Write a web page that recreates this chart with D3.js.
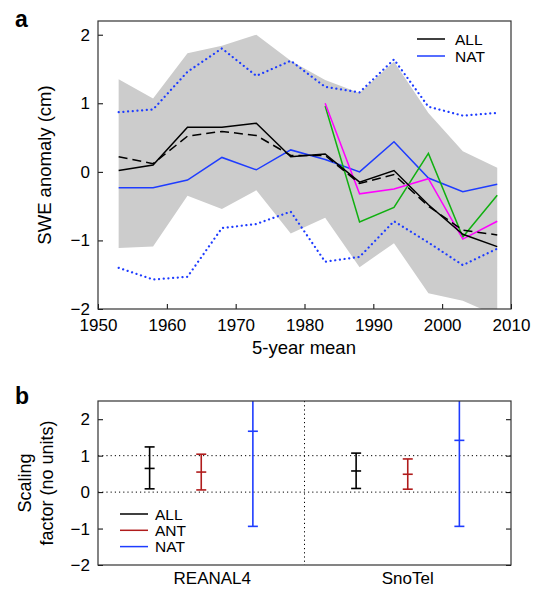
<!DOCTYPE html>
<html>
<head>
<meta charset="utf-8">
<script src="https://cdn.jsdelivr.net/npm/d3@7"></script>
<style>
  body { margin: 0; background: #fff; }
  svg { font-family: "Liberation Sans", Arial, sans-serif; }
</style>
</head>
<body>
<svg id="chart" width="539" height="591"></svg>
<script>

// panel a: 5-year means of SWE anomaly (cm)
var years = [1953, 1958, 1963, 1968, 1973, 1978, 1983, 1988, 1993, 1998, 2003, 2008];
var allMean   = [0.02, 0.10, 0.65, 0.65, 0.71, 0.22, 0.26, -0.15, 0.02, -0.48, -0.91, -1.09];
var allDashed = [0.22, 0.12, 0.52, 0.59, 0.53, 0.24, 0.24, -0.17, -0.04, -0.50, -0.85, -0.92];
var natMean   = [-0.23, -0.23, -0.12, 0.21, 0.03, 0.32, 0.18, 0.00, 0.44, -0.09, -0.29, -0.18];
var natUpper  = [0.87, 0.91, 1.46, 1.80, 1.40, 1.62, 1.24, 1.16, 1.64, 0.95, 0.82, 0.86];
var natLower  = [-1.40, -1.57, -1.53, -0.82, -0.76, -0.58, -1.31, -1.24, -0.72, -1.03, -1.36, -1.12];
var allUpper  = [1.35, 1.07, 1.73, 1.84, 2.00, 1.62, 1.34, 1.15, 1.61, 0.86, 0.30, 0.06];
var allLower  = [-1.11, -1.09, -0.35, -0.54, -0.27, -0.90, -0.67, -1.39, -1.04, -1.77, -1.88, -2.10];

var obsYears = [1983, 1988, 1993, 1998, 2003, 2008];
var obsMagenta = [1.00, -0.32, -0.25, -0.10, -0.98, -0.72];
var obsGreen   = [0.96, -0.73, -0.52, 0.27, -0.95, -0.34];

var xTicksA = [1950, 1960, 1970, 1980, 1990, 2000, 2010];
var yTicksA = [-2, -1, 0, 1, 2];

// panel b: scaling factors
var sites = ["REANAL4", "SnoTel"];
var forcings = ["ALL", "ANT", "NAT"];
var reanalBest = [0.65, 0.55, 1.67];
var reanalLow  = [0.09, 0.06, -0.94];
var reanalHigh = [1.24, 1.04, 4.28];
var snotelBest = [0.58, 0.49, 1.42];
var snotelLow  = [0.10, 0.08, -0.94];
var snotelHigh = [1.07, 0.91, 3.78];
var yTicksB = [-2, -1, 0, 1, 2];

var blue = "#1e3cff", red = "#b01c1c", green = "#10b010", magenta = "#ff00ff";
var forcingColor = { ALL: "#000", ANT: red, NAT: blue };

const svg = d3.select("#chart");

// ---------- panel a ----------
var left = 98, right = 511;
var topA = 21, bottomA = 309;

const xA = d3.scaleLinear().domain([1950, 2010]).range([left, right]);
const yA = d3.scaleLinear().domain([-2, 2.2]).range([bottomA, topA]);

svg.append("clipPath").attr("id", "clipA")
  .append("rect").attr("x", left).attr("y", topA)
  .attr("width", right - left).attr("height", bottomA - topA);

const gA = svg.append("g").attr("clip-path", "url(#clipA)");

const band = d3.area()
  .x((d, i) => xA(years[i]))
  .y0((d, i) => yA(allLower[i]))
  .y1((d, i) => yA(allUpper[i]));

gA.append("path").datum(years).attr("d", band).attr("fill", "#cccccc");

function drawLine(xs, ys, color, dash, width, cap) {
  const line = d3.line().x((d, i) => xA(xs[i])).y(d => yA(d));
  gA.append("path")
    .datum(ys)
    .attr("d", line)
    .attr("fill", "none")
    .attr("stroke", color)
    .attr("stroke-width", width || 1.5)
    .attr("stroke-dasharray", dash || null)
    .attr("stroke-linecap", cap || "butt");
}

// dotted NAT range
drawLine(years, natUpper, blue, "0.1,4.6", 2.2, "round");
drawLine(years, natLower, blue, "0.1,4.6", 2.2, "round");
drawLine(years, natMean, blue);
drawLine(obsYears, obsGreen, green);
drawLine(obsYears, obsMagenta, magenta);
drawLine(years, allDashed, "#000", "9,5");
drawLine(years, allMean, "#000");

svg.append("g")
  .attr("transform", "translate(0," + bottomA + ")")
  .call(d3.axisBottom(xA).tickValues(xTicksA).tickFormat(d3.format("d"))
    .tickSizeInner(-5).tickSizeOuter(0).tickPadding(10))
  .call(g => g.select(".domain").remove())
  .call(g => g.selectAll("text").attr("font-size", 17).attr("fill", "#000"));

svg.append("g")
  .attr("transform", "translate(" + left + ",0)")
  .call(d3.axisLeft(yA).tickValues(yTicksA).tickFormat(d3.format("d"))
    .tickSizeInner(-5).tickSizeOuter(0).tickPadding(8))
  .call(g => g.select(".domain").remove())
  .call(g => g.selectAll("text").attr("font-size", 17).attr("fill", "#000"));

svg.append("rect")
  .attr("x", left).attr("y", topA)
  .attr("width", right - left).attr("height", bottomA - topA)
  .attr("fill", "none").attr("stroke", "#333").attr("stroke-width", 1.2);

// legend a
var legA = [["ALL", "#000"], ["NAT", blue]];
legA.forEach(function(d, i) {
  var y = 39 + i * 17;
  svg.append("line").attr("x1", 417).attr("x2", 445).attr("y1", y).attr("y2", y)
    .attr("stroke", d[1]).attr("stroke-width", 1.5);
  svg.append("text").attr("x", 455).attr("y", y + 5.5).attr("font-size", 15.5).text(d[0]);
});

svg.append("text").attr("x", 304).attr("y", 354).attr("text-anchor", "middle")
  .attr("font-size", 18.5).text("5-year mean");

svg.append("text").attr("transform", "translate(51," + ((topA + bottomA) / 2) + ") rotate(-90)")
  .attr("text-anchor", "middle").attr("font-size", 18.5).text("SWE anomaly (cm)");

svg.append("text").attr("x", 15).attr("y", 27).attr("font-size", 23)
  .attr("font-weight", "bold").text("a");

// ---------- panel b ----------
var topB = 401, bottomB = 565;

const xB = d3.scaleBand().domain(sites).range([left, right]);
const inner = d3.scalePoint().domain(forcings)
  .range([-xB.bandwidth() / 4, xB.bandwidth() / 4]);
const yB = d3.scaleLinear().domain([-2, 2.5]).range([bottomB, topB]);

svg.append("clipPath").attr("id", "clipB")
  .append("rect").attr("x", left).attr("y", topB)
  .attr("width", right - left).attr("height", bottomB - topB);

const gB = svg.append("g").attr("clip-path", "url(#clipB)");

// dotted reference lines
[0, 1].forEach(function(v) {
  gB.append("line").attr("x1", left).attr("x2", right)
    .attr("y1", yB(v)).attr("y2", yB(v))
    .attr("stroke", "#000").attr("stroke-width", 1).attr("stroke-dasharray", "1.2,3");
});
gB.append("line")
  .attr("x1", xB("SnoTel")).attr("x2", xB("SnoTel"))
  .attr("y1", topB).attr("y2", bottomB)
  .attr("stroke", "#000").attr("stroke-width", 1).attr("stroke-dasharray", "1.2,3");

var bars = [];
forcings.forEach(function(f, i) {
  bars.push({ site: "REANAL4", f: f, best: reanalBest[i], lo: reanalLow[i], hi: reanalHigh[i] });
  bars.push({ site: "SnoTel", f: f, best: snotelBest[i], lo: snotelLow[i], hi: snotelHigh[i] });
});

var cap = 5;
const eb = gB.selectAll("g.eb").data(bars).enter().append("g")
  .attr("stroke", d => forcingColor[d.f]).attr("stroke-width", 1.6)
  .attr("transform", d => "translate(" + (xB(d.site) + xB.bandwidth() / 2 + inner(d.f)) + ",0)");
eb.append("line").attr("y1", d => yB(d.lo)).attr("y2", d => yB(d.hi));
eb.append("line").attr("x1", -cap).attr("x2", cap).attr("y1", d => yB(d.lo)).attr("y2", d => yB(d.lo));
eb.append("line").attr("x1", -cap).attr("x2", cap).attr("y1", d => yB(d.hi)).attr("y2", d => yB(d.hi));
eb.append("line").attr("x1", -cap).attr("x2", cap).attr("y1", d => yB(d.best)).attr("y2", d => yB(d.best));

svg.append("g")
  .attr("transform", "translate(" + left + ",0)")
  .call(d3.axisLeft(yB).tickValues(yTicksB).tickFormat(d3.format("d"))
    .tickSizeInner(-5).tickSizeOuter(0).tickPadding(8))
  .call(g => g.select(".domain").remove())
  .call(g => g.selectAll("text").attr("font-size", 17).attr("fill", "#000"));

svg.append("g")
  .attr("transform", "translate(" + right + ",0)")
  .call(d3.axisRight(yB).tickValues(yTicksB).tickFormat("")
    .tickSizeInner(-5).tickSizeOuter(0))
  .call(g => g.select(".domain").remove());

svg.append("g")
  .attr("transform", "translate(0," + bottomB + ")")
  .call(d3.axisBottom(xB).tickSize(0).tickPadding(7))
  .call(g => g.select(".domain").remove())
  .call(g => g.selectAll("text").attr("font-size", 17).attr("fill", "#000")
    .attr("dx", (d, i) => i == 0 ? 11 : 0));

svg.append("rect")
  .attr("x", left).attr("y", topB)
  .attr("width", right - left).attr("height", bottomB - topB)
  .attr("fill", "none").attr("stroke", "#333").attr("stroke-width", 1.2);

// legend b
forcings.forEach(function(f, i) {
  var y = 514 + i * 16.3;
  svg.append("line").attr("x1", 120).attr("x2", 148).attr("y1", y).attr("y2", y)
    .attr("stroke", forcingColor[f]).attr("stroke-width", 1.5);
  svg.append("text").attr("x", 155).attr("y", y + 5.5).attr("font-size", 15.5).text(f);
});

var midB = (topB + bottomB) / 2;
svg.append("text").attr("transform", "translate(31," + midB + ") rotate(-90)")
  .attr("text-anchor", "middle").attr("font-size", 18).text("Scaling");
svg.append("text").attr("transform", "translate(53," + midB + ") rotate(-90)")
  .attr("text-anchor", "middle").attr("font-size", 18).text("factor (no units)");

svg.append("text").attr("x", 15).attr("y", 404).attr("font-size", 23)
  .attr("font-weight", "bold").text("b");

</script>
</body>
</html>
